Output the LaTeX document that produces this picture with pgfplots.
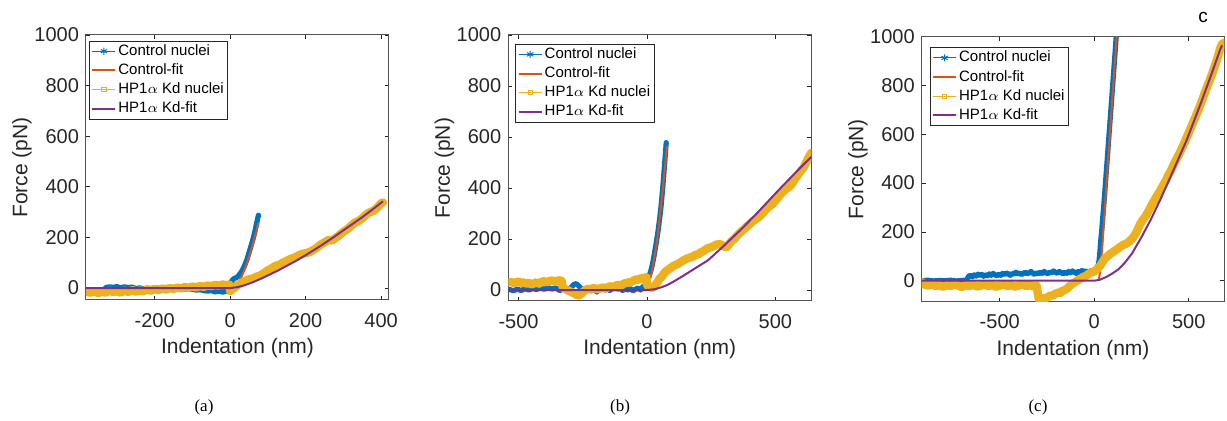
\documentclass[border=0pt]{standalone}
\usepackage{pgfplots}
\pgfplotsset{compat=1.18}
\usepackage{fontspec}
\setmainfont{Liberation Sans}
\newfontfamily\capfont{Liberation Serif}
\definecolor{mblue}{rgb}{0,0.447,0.741}
\definecolor{mred}{rgb}{0.85,0.325,0.098}
\definecolor{myellow}{rgb}{0.929,0.694,0.125}
\definecolor{mpurple}{rgb}{0.494,0.184,0.556}
\definecolor{axgray}{rgb}{0.15,0.15,0.15}
\pgfplotsset{
  matlab/.style={
    scale only axis,
    width=151.5pt, height=132.5pt,
    anchor=south west,
    ymax=1000,
    ytick={0,200,400,600,800,1000},
    tick align=inside,
    major tick length=2pt,
    axis line style={draw=axgray!80, line width=0.5pt},
    every tick/.style={axgray, line width=0.4pt},
    tick label style={font=\fontsize{10}{12}\selectfont, text=axgray},
    /pgf/number format/assume math mode=true,
    /pgf/number format/1000 sep={},
    scaled ticks=false,
    xticklabel shift=3pt,
    every axis x label/.style={at={(axis description cs:0.5,-0.181)}, anchor=center},
    every axis y label/.style={at={(axis description cs:-0.211,0.5)}, rotate=90, anchor=center},
    label style={font=\fontsize{10.5}{12}\selectfont, text=axgray},
    xlabel={Indentation (nm)}, ylabel={Force (pN)},
    legend cell align=left,
    legend style={at={(0,1)}, anchor=north west, xshift=1.5pt, yshift=-2.8pt,
      draw=axgray, line width=0.4pt, fill=white,
      font=\fontsize{7.5}{9}\selectfont, text=black,
      inner xsep=1pt, inner ysep=0.3pt, row sep=0pt,
      nodes={inner xsep=1pt, inner ysep=1.2pt, text height=5.6pt, text depth=1.6pt}},
    legend image code/.code={\draw[mark repeat=2,mark phase=2] plot coordinates {(0pt,0pt) (5.75pt,0pt) (11.5pt,0pt)};},
  },
  bluedata/.style={mblue, line width=2.6pt, line join=round, line cap=round, forget plot},
  yellowdata/.style={myellow, line width=4.2pt, line join=round, line cap=round, forget plot},
  redfit/.style={mred, line width=1pt, forget plot},
  purplefit/.style={mpurple, line width=1pt, forget plot},
}
\newcommand{\matlablegend}{%
  \addlegendimage{mblue, line width=0.5pt, mark=asterisk, mark size=1.8pt, mark options={line width=0.5pt}}
  \addlegendentry{Control nuclei}
  \addlegendimage{mred, line width=1pt}
  \addlegendentry{Control-fit}
  \addlegendimage{myellow, line width=0.5pt, mark=square, mark size=1.1pt}
  \addlegendentry{HP1$\alpha$ Kd nuclei}
  \addlegendimage{mpurple, line width=1pt}
  \addlegendentry{HP1$\alpha$ Kd-fit}
}
\begin{document}
\begin{tikzpicture}
\useasboundingbox (0pt,0pt) rectangle (613.5pt,210.5pt);
% ---------------- (a)
\begin{axis}[matlab, at={(43pt,60.5pt)}, xmin=-382, xmax=421, ymin=-47,
  xtick={-200,0,200,400}]
\addplot[bluedata] coordinates {(-330,2)(-320,5)(-310,3)(-300,6)(-290,1)(-280,5)(-270,2)(-260,4)(-250,-2)(-240,1)(-230,-3)(-220,0)(-210,-2)(-200,2)(-190,-1)(-180,1)(-170,3)(-160,0)(-150,-4)(-140,-2)(-130,-6)(-120,-3)(-110,-5)(-100,-4)(-90,-8)(-80,-6)(-70,-10)(-60,-12)(-50,-10)(-40,-15)(-30,-12)(-20,-16)(-10,-12)(-5,-14)(0,15)(5,30)(10,38)(15,40)(20,45)(25,55)(30,65)(35,78)(40,95)(45,115)(50,140)(55,165)(60,190)(65,220)(70,255)(75,288)};
\addplot[redfit] coordinates {(10,0)(20,15)(30,44)(40,80)(50,124)(60,173)(70,228)(75,257)};
\addplot[yellowdata] coordinates {(-380,-15)(-370,-18)(-360,-12)(-350,-20)(-340,-14)(-330,-18)(-320,-10)(-310,-16)(-300,-12)(-290,-18)(-280,-10)(-270,-15)(-260,-8)(-250,-14)(-240,-10)(-230,-12)(-220,-6)(-210,-10)(-200,-4)(-190,-8)(-180,-2)(-170,-6)(-160,0)(-150,-3)(-140,2)(-130,-1)(-120,4)(-110,1)(-100,6)(-90,3)(-80,8)(-70,5)(-60,10)(-50,8)(-40,12)(-30,10)(-20,14)(-10,12)(-2,14)(0,-12)(5,-5)(10,0)(20,12)(30,20)(40,28)(50,35)(60,38)(70,45)(80,50)(90,60)(100,70)(110,78)(120,88)(130,92)(140,100)(150,108)(160,115)(170,120)(180,128)(190,135)(200,138)(210,142)(220,150)(230,160)(240,172)(250,180)(260,190)(270,188)(280,198)(290,210)(300,222)(310,232)(320,245)(330,258)(340,265)(350,275)(360,290)(370,300)(380,305)(390,318)(400,335)(405,338)};
\addplot[purplefit] coordinates {(-382,0)(0,0)(20,4)(40,12)(60,23)(80,36)(100,50)(125,68)(150,88)(175,108)(200,130)(225,153)(250,177)(275,202)(300,228)(325,254)(350,280)(375,308)(400,337)(405,343)};
\matlablegend
\end{axis}
% ---------------- (b)
\begin{axis}[matlab, at={(254.15pt,60pt)}, height=133pt, xmin=-540, xmax=640, ymin=-43,
  xtick={-500,0,500}, legend style={xshift=2pt, yshift=-1.6pt}]
\addplot[bluedata] coordinates {(-535,2)(-520,-3)(-505,4)(-490,-2)(-475,5)(-460,0)(-445,6)(-430,2)(-415,8)(-400,3)(-385,10)(-370,4)(-355,8)(-340,-2)(-325,5)(-310,-3)(-295,10)(-285,22)(-275,25)(-265,15)(-255,5)(-245,-5)(-235,2)(-225,8)(-215,-3)(-205,4)(-195,-8)(-185,6)(-175,12)(-165,2)(-155,8)(-145,-2)(-135,5)(-125,10)(-115,3)(-105,8)(-95,-2)(-85,5)(-75,0)(-65,6)(-55,-3)(-45,3)(-35,8)(-25,0)(-15,15)(-8,5)(0,30)(5,50)(10,60)(15,75)(20,95)(25,120)(30,148)(35,178)(40,210)(45,245)(50,285)(55,330)(60,385)(65,445)(70,510)(75,578)};
\addplot[redfit] coordinates {(13,45)(20,80)(25,105)(30,135)(35,165)(40,200)(45,240)(50,285)(55,330)(60,380)(65,430)(70,480)(75,535)(78,565)};
\addplot[yellowdata] coordinates {(-540,30)(-530,32)(-520,28)(-510,30)(-500,33)(-490,28)(-480,30)(-470,25)(-460,28)(-450,22)(-440,26)(-430,30)(-420,25)(-410,32)(-400,35)(-390,30)(-380,35)(-370,38)(-360,32)(-350,36)(-340,38)(-332,35)(-328,10)(-320,5)(-310,0)(-300,-5)(-290,-10)(-280,-15)(-270,-22)(-260,-18)(-250,-8)(-240,0)(-230,5)(-220,2)(-210,8)(-200,5)(-190,3)(-180,8)(-170,10)(-160,5)(-150,12)(-140,15)(-130,10)(-120,18)(-110,20)(-100,18)(-90,25)(-80,28)(-70,30)(-60,32)(-50,38)(-40,42)(-30,40)(-20,48)(-10,45)(-3,50)(0,20)(10,12)(20,8)(30,15)(40,30)(50,45)(60,55)(70,70)(80,78)(90,85)(100,92)(110,98)(120,102)(130,108)(140,115)(150,120)(160,125)(170,128)(180,132)(190,138)(200,140)(210,148)(220,152)(230,160)(240,165)(250,168)(260,172)(270,178)(280,180)(290,178)(300,170)(310,168)(320,180)(330,192)(340,200)(350,212)(360,222)(370,232)(380,240)(390,250)(400,258)(410,268)(420,275)(430,282)(440,290)(450,300)(460,312)(470,322)(480,330)(490,338)(500,350)(510,362)(520,375)(530,385)(540,395)(550,402)(560,410)(570,425)(580,440)(590,455)(600,468)(610,480)(620,500)(630,520)(640,538)};
\addplot[purplefit] coordinates {(-540,0)(0,0)(30,3)(60,12)(80,20)(107,35)(140,55)(170,74)(200,93)(237,116)(270,146)(300,174)(330,203)(367,238)(400,272)(430,303)(460,335)(497,375)(530,410)(560,441)(600,482)(640,522)};
\matlablegend
\end{axis}
% ---------------- (c)
\begin{axis}[matlab, at={(460.85pt,59.65pt)}, width=151.3pt, xmin=-913, xmax=688, ymin=-86,
  xtick={-500,0,500}, legend style={xshift=2.5pt, yshift=-2.5pt}]
\addplot[bluedata] coordinates {(-913,0)(-880,2)(-850,-1)(-820,1)(-790,0)(-760,2)(-730,-1)(-700,1)(-675,3)(-665,18)(-655,22)(-645,16)(-635,24)(-625,19)(-615,27)(-605,21)(-595,26)(-585,18)(-575,25)(-565,20)(-555,28)(-545,22)(-535,30)(-525,24)(-515,20)(-505,27)(-495,22)(-485,30)(-475,25)(-465,32)(-455,28)(-445,22)(-435,30)(-425,26)(-415,35)(-405,28)(-395,32)(-385,25)(-375,30)(-365,35)(-355,28)(-345,32)(-335,38)(-325,30)(-315,26)(-305,33)(-295,28)(-285,35)(-275,30)(-265,38)(-255,32)(-245,28)(-235,36)(-225,32)(-215,40)(-205,34)(-195,30)(-185,38)(-175,33)(-165,28)(-155,35)(-145,30)(-135,38)(-125,32)(-115,40)(-105,35)(-95,30)(-85,38)(-75,33)(-65,42)(-55,36)(-45,40)(-35,35)(-25,38)(-15,42)(-5,38)(0,40)(10,45)(18,52)(25,80)(30,120)(35,170)(40,212)(45,260)(50,305)(55,355)(60,408)(65,460)(70,512)(75,565)(80,618)(85,670)(90,722)(95,775)(100,828)(105,880)(110,933)(115,988)(120,1040)};
\addplot[redfit] coordinates {(22,0)(27,15)(32,45)(37,90)(42,140)(48,209)(60,345)(70,458)(80,570)(90,683)(100,796)(110,909)(120,1023)};
\addplot[yellowdata] coordinates {(-913,-5)(-900,-15)(-880,-20)(-860,-14)(-840,-22)(-820,-18)(-800,-25)(-780,-18)(-760,-22)(-740,-15)(-720,-20)(-700,-26)(-680,-18)(-660,-22)(-640,-16)(-620,-24)(-600,-20)(-580,-15)(-560,-22)(-540,-18)(-520,-25)(-500,-20)(-480,-15)(-460,-22)(-440,-18)(-420,-24)(-400,-20)(-380,-15)(-360,-22)(-340,-18)(-320,-24)(-305,-20)(-300,-45)(-295,-70)(-290,-80)(-280,-78)(-270,-72)(-260,-75)(-250,-68)(-240,-65)(-230,-60)(-220,-62)(-210,-55)(-200,-52)(-190,-48)(-180,-50)(-170,-42)(-160,-40)(-150,-35)(-140,-30)(-130,-22)(-120,-15)(-110,-10)(-100,-5)(-90,0)(-80,5)(-70,10)(-60,15)(-50,18)(-40,22)(-30,28)(-20,32)(-10,35)(0,38)(15,48)(30,60)(45,78)(57,92)(70,100)(85,110)(100,118)(115,126)(127,133)(140,140)(155,148)(170,152)(185,160)(200,172)(215,187)(230,210)(245,235)(260,252)(275,268)(290,290)(304,310)(320,332)(335,352)(350,370)(365,392)(380,412)(392,433)(405,450)(420,475)(435,498)(450,520)(465,545)(480,570)(495,598)(510,625)(525,652)(540,680)(555,708)(568,734)(580,760)(595,790)(610,820)(625,850)(640,885)(655,920)(665,950)(675,968)(685,975)};
\addplot[purplefit] coordinates {(-913,0)(0,0)(30,4)(60,14)(90,27)(127,46)(160,72)(200,112)(251,180)(300,252)(350,333)(392,406)(440,490)(490,578)(533,665)(570,740)(610,825)(640,890)(665,945)(676,965)};
\matlablegend
\end{axis}
\node[font=\fontsize{9.5}{11}\selectfont, text=black] at (601.5pt,202pt) {c};
\node[font=\capfont\fontsize{8.5}{10}\selectfont] at (102pt,7pt) {(a)};
\node[font=\capfont\fontsize{8.5}{10}\selectfont] at (310pt,7pt) {(b)};
\node[font=\capfont\fontsize{8.5}{10}\selectfont] at (519pt,7pt) {(c)};
\end{tikzpicture}
\end{document}
